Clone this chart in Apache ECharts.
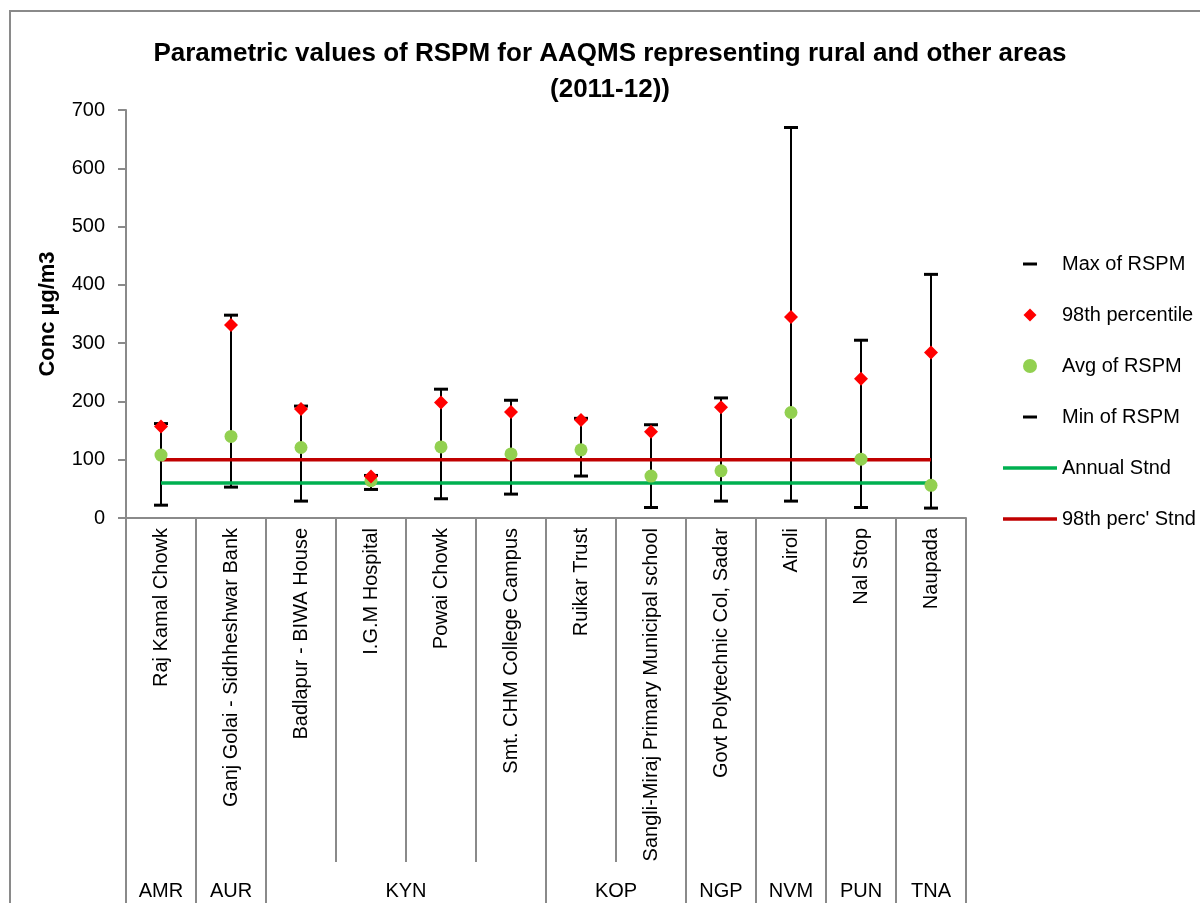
<!DOCTYPE html>
<html><head><meta charset="utf-8">
<script src="https://cdn.jsdelivr.net/npm/echarts@6/dist/echarts.min.js"></script>
<style>
html,body{margin:0;padding:0;background:#fff;}
#frame{position:absolute;left:9px;top:10px;width:1300px;height:1000px;border-left:2px solid #8a8a8a;border-top:2px solid #8a8a8a;}
#chart{position:absolute;left:0;top:0;width:1200px;height:903px;}
</style>
</head><body><div id="frame"></div><div id="chart"></div>
<script>
const sites = ['Raj Kamal Chowk','Ganj Golai - Sidhheshwar Bank','Badlapur - BIWA House','I.G.M Hospital','Powai Chowk','Smt. CHM College Campus','Ruikar Trust','Sangli-Miraj Primary Municipal school','Govt Polytechnic Col, Sadar','Airoli','Nal Stop','Naupada'];
const groups = ['AMR','AUR','KYN','KOP','NGP','NVM','PUN','TNA'];
const groupSizes = [1,1,4,2,1,1,1,1];
const maxVals = [162,348,192,73,221,202,171,160,206,670,305,418];
const p98Vals = [157,331,187,71,198,182,168,148,190,345,239,284];
const avgVals = [108,140,121,64,122,110,117,72,81,181,101,56];
const minVals = [22,53,29,49,33,41,72,18,29,29,18,17];
const annualStnd = [60,60,60,60,60,60,60,60,60,60,60,60];
const p98Stnd = [100,100,100,100,100,100,100,100,100,100,100,100];
const yMin = 0, yMax = 700, yStep = 100;

const FONT = "'Liberation Sans',Arial,sans-serif";
const GRAY = '#8a8a8a';

// group boundaries and centres (in site units)
const groupBounds = [0];
const groupCenters = [];
const centerName = {};
groupSizes.forEach((n, i) => {
  const start = groupBounds[groupBounds.length - 1];
  const c = start + n / 2;
  groupCenters.push(c);
  centerName[c] = groups[i];
  groupBounds.push(start + n);
});

const dashIcon = 'path://M0,0M54,14M20,5.5L34,5.5L34,8.5L20,8.5Z';
const diamondIcon = 'path://M0,0M54,14M27,0.5L33.5,7L27,13.5L20.5,7Z';
const lineIcon = 'path://M0,0M54,14M0,5.25L54,5.25L54,8.75L0,8.75Z';

const chart = echarts.init(document.getElementById('chart'), null, {renderer: 'canvas'});
chart.setOption({
  animation: false,
  textStyle: {fontFamily: FONT},
  title: {
    text: 'Parametric values of RSPM for AAQMS representing rural and other areas\n(2011-12))',
    left: 610, top: 36, padding: 0, textAlign: 'center',
    textStyle: {fontFamily: FONT, fontSize: 26, fontWeight: 'bold', color: '#000', lineHeight: 36}
  },
  grid: {left: 126, right: 234, top: 110, bottom: 385, containLabel: false},
  legend: {
    orient: 'vertical', left: 1003, top: 254, padding: 0, itemWidth: 54, itemHeight: 14, itemGap: 31,
    textStyle: {fontFamily: FONT, fontSize: 20, color: '#000'},
    selectedMode: false,
    data: [
      {name: 'Max of RSPM', icon: dashIcon},
      {name: '98th percentile', icon: diamondIcon},
      {name: 'Avg of RSPM', icon: 'circle'},
      {name: 'Min of RSPM', icon: dashIcon},
      {name: 'Annual Stnd', icon: lineIcon},
      {name: "98th perc' Stnd", icon: lineIcon}
    ]
  },
  xAxis: [
    {
      type: 'category', data: sites, position: 'bottom',
      axisLine: {lineStyle: {color: GRAY, width: 2}},
      axisTick: {show: true, interval: 0, length: 344, lineStyle: {color: GRAY, width: 2}},
      axisLabel: {interval: 0, rotate: 90, margin: 10, fontSize: 20, color: '#000', fontFamily: FONT},
      splitLine: {show: false}
    },
    {
      type: 'value', position: 'bottom', min: 0, max: groupBounds[groupBounds.length - 1],
      axisLine: {show: false}, splitLine: {show: false},
      axisTick: {show: true, customValues: groupBounds, length: 392, lineStyle: {color: GRAY, width: 2}},
      axisLabel: {show: true, customValues: groupCenters, formatter: v => centerName[v] || '', margin: 363, fontSize: 20, color: '#000', fontFamily: FONT}
    }
  ],
  yAxis: {
    type: 'value', min: yMin, max: yMax, interval: yStep,
    name: 'Conc µg/m3', nameLocation: 'middle', nameRotate: 90, nameGap: 67,
    nameTextStyle: {fontFamily: FONT, fontSize: 22, fontWeight: 'bold', color: '#000'},
    axisLine: {show: true, lineStyle: {color: GRAY, width: 2}},
    axisTick: {show: true, length: 8, lineStyle: {color: GRAY, width: 2}},
    axisLabel: {fontSize: 20, color: '#000', margin: 21, fontFamily: FONT},
    splitLine: {show: false}
  },
  series: [
    {
      type: 'custom', name: 'range', z: 2,
      data: sites.map((s, i) => [i, minVals[i], maxVals[i]]),
      renderItem: (params, api) => {
        const x = api.value(0);
        const lo = api.coord([x, api.value(1)]);
        const hi = api.coord([x, api.value(2)]);
        return {type: 'line', shape: {x1: lo[0], y1: lo[1], x2: hi[0], y2: hi[1]}, style: {stroke: '#000', lineWidth: 2}};
      }
    },
    {name: 'Annual Stnd', type: 'line', data: annualStnd, symbol: 'none', z: 3,
     lineStyle: {color: '#00B050', width: 3.5}, itemStyle: {color: '#00B050'}},
    {name: "98th perc' Stnd", type: 'line', data: p98Stnd, symbol: 'none', z: 3,
     lineStyle: {color: '#C00000', width: 3.5}, itemStyle: {color: '#C00000'}},
    {name: 'Max of RSPM', type: 'scatter', data: maxVals, symbol: 'rect', symbolSize: [14, 3], z: 4,
     itemStyle: {color: '#000', opacity: 1}},
    {name: 'Min of RSPM', type: 'scatter', data: minVals, symbol: 'rect', symbolSize: [14, 3], z: 4,
     itemStyle: {color: '#000', opacity: 1}},
    {name: 'Avg of RSPM', type: 'scatter', data: avgVals, symbol: 'circle', symbolSize: 13, z: 5,
     itemStyle: {color: '#92D050', opacity: 1}},
    {name: '98th percentile', type: 'scatter', data: p98Vals, symbol: 'diamond', symbolSize: 14, z: 6,
     itemStyle: {color: '#FF0000', opacity: 1}}
  ]
});
</script>
</body></html>
